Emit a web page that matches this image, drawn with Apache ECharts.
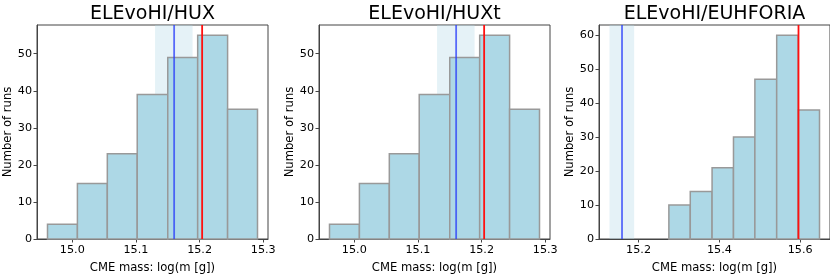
<!DOCTYPE html>
<html>
<head>
<meta charset="utf-8">
<script src="https://cdn.jsdelivr.net/npm/echarts@6/dist/echarts.min.js"></script>
<style>
html,body{margin:0;padding:0;background:#fff;}
#chart{width:830px;height:279px;}
</style>
</head>
<body>
<div id="chart"></div>
<script>
// ---- data ----
const titles = ['ELEvoHI/HUX', 'ELEvoHI/HUXt', 'ELEvoHI/EUHFORIA'];
const binEdgesHUX = [14.961, 15.008, 15.055, 15.102, 15.150, 15.197, 15.244, 15.291];
const countsHUX = [4, 15, 23, 39, 49, 55, 35];
const binEdgesHUXt = [14.961, 15.008, 15.055, 15.102, 15.150, 15.197, 15.244, 15.291];
const countsHUXt = [4, 15, 23, 39, 49, 55, 35];
const binEdgesEUH = [15.275, 15.328, 15.382, 15.435, 15.488, 15.542, 15.595, 15.648];
const countsEUH = [10, 14, 21, 30, 47, 60, 38];
const observedMass = [15.160, 15.160, 15.159];
const observedLow = [15.130, 15.130, 15.128];
const observedHigh = [15.189, 15.189, 15.189];
const modelMass = [15.204, 15.204, 15.596];
const xTicksHUX = [15.0, 15.1, 15.2, 15.3];
const xTicksHUXt = [15.0, 15.1, 15.2, 15.3];
const xTicksEUH = [15.2, 15.4, 15.6];
const yTicksHUX = [0, 10, 20, 30, 40, 50];
const yTicksHUXt = [0, 10, 20, 30, 40, 50];
const yTicksEUH = [0, 10, 20, 30, 40, 50, 60];
const xLabel = 'CME mass: log(m [g])';
const yLabel = 'Number of runs';

// ---- layout ----
const gridLefts = [37, 319, 599];
const gridWidth = 231;
const gridTop = 25;
const gridHeight = 218;
const FONT = 'DejaVu Sans';

const panels = [
  {edges: binEdgesHUX, counts: countsHUX, xt: xTicksHUX, yt: yTicksHUX},
  {edges: binEdgesHUXt, counts: countsHUXt, xt: xTicksHUXt, yt: yTicksHUXt},
  {edges: binEdgesEUH, counts: countsEUH, xt: xTicksEUH, yt: yTicksEUH}
];

const grids = [], xAxes = [], yAxes = [], series = [], graphics = [];
const frameColor = '#444';

panels.forEach((p, i) => {
  const lo = Math.min(p.edges[0], observedLow[i]);
  const hi = Math.max(p.edges[p.edges.length - 1], observedHigh[i]);
  const pad = (hi - lo) * 0.05;
  const ymax = Math.max.apply(null, p.counts) * 1.05;
  grids.push({left: gridLefts[i], top: gridTop, width: gridWidth, height: gridHeight,
    show: true, borderColor: frameColor, borderWidth: 1, backgroundColor: 'transparent'});
  xAxes.push({
    type: 'value', gridIndex: i, min: lo - pad, max: hi + pad,
    splitLine: {show: false},
    axisLine: {show: true, lineStyle: {color: frameColor, width: 1}},
    axisTick: {show: true, length: 3.5, customValues: p.xt, lineStyle: {color: frameColor}},
    axisLabel: {customValues: p.xt, formatter: v => v.toFixed(1), fontFamily: FONT, fontSize: 11.2, color: '#000', margin: 6},
    name: xLabel, nameLocation: 'middle', nameGap: 23,
    nameTextStyle: {fontFamily: FONT, fontSize: 11.6, color: '#000'}
  });
  yAxes.push({
    type: 'value', gridIndex: i, min: 0, max: ymax,
    splitLine: {show: false},
    axisLine: {show: true, lineStyle: {color: frameColor, width: 1}},
    axisTick: {show: true, length: 3.5, customValues: p.yt, lineStyle: {color: frameColor}},
    axisLabel: {customValues: p.yt, fontFamily: FONT, fontSize: 11.2, color: '#000', margin: 5},
    name: yLabel, nameLocation: 'middle', nameGap: 23,
    nameTextStyle: {fontFamily: FONT, fontSize: 11.6, color: '#000'}
  });
  // observed uncertainty span
  series.push({
    type: 'custom', xAxisIndex: i, yAxisIndex: i, z: 1, silent: true,
    data: [[observedLow[i], observedHigh[i]]],
    encode: {x: [0, 1]},
    renderItem: function (params, api) {
      const cs = params.coordSys;
      const x0 = api.coord([api.value(0), 0])[0];
      const x1 = api.coord([api.value(1), 0])[0];
      return {type: 'rect', shape: {x: x0, y: cs.y, width: x1 - x0, height: cs.height},
        style: {fill: 'rgba(173,216,230,0.32)'}};
    }
  });
  // histogram bars
  const barData = p.counts.map((c, k) => [p.edges[k], p.edges[k + 1], c]);
  series.push({
    type: 'custom', xAxisIndex: i, yAxisIndex: i, z: 2, silent: true,
    data: barData,
    encode: {x: [0, 1], y: 2},
    renderItem: function (params, api) {
      const a = api.coord([api.value(0), api.value(2)]);
      const b = api.coord([api.value(1), 0]);
      return {type: 'rect', shape: {x: a[0], y: a[1], width: b[0] - a[0], height: b[1] - a[1]},
        style: {fill: '#add8e6', stroke: '#999999', lineWidth: 1.5}};
    }
  });
  // vertical lines
  [[observedMass[i], 'rgba(40,60,250,0.75)'], [modelMass[i], '#ff1010']].forEach(([v, col]) => {
    series.push({
      type: 'custom', xAxisIndex: i, yAxisIndex: i, z: 3, silent: true,
      data: [[v, 0]],
      encode: {x: 0, y: 1},
      renderItem: function (params, api) {
        const cs = params.coordSys;
        const x = api.coord([api.value(0), 0])[0];
        return {type: 'line', shape: {x1: x, y1: cs.y, x2: x, y2: cs.y + cs.height},
          style: {stroke: col, lineWidth: 1.8}};
      }
    });
  });
  graphics.push({type: 'text', x: gridLefts[i] + gridWidth / 2, y: 5,
    style: {text: titles[i], font: '19px "DejaVu Sans"', fill: '#000', textAlign: 'center', textVerticalAlign: 'top'}});
});

const chart = echarts.init(document.getElementById('chart'), null, {renderer: 'canvas'});
chart.setOption({
  animation: false,
  grid: grids, xAxis: xAxes, yAxis: yAxes, series: series, graphic: graphics
});
</script>
</body>
</html>
